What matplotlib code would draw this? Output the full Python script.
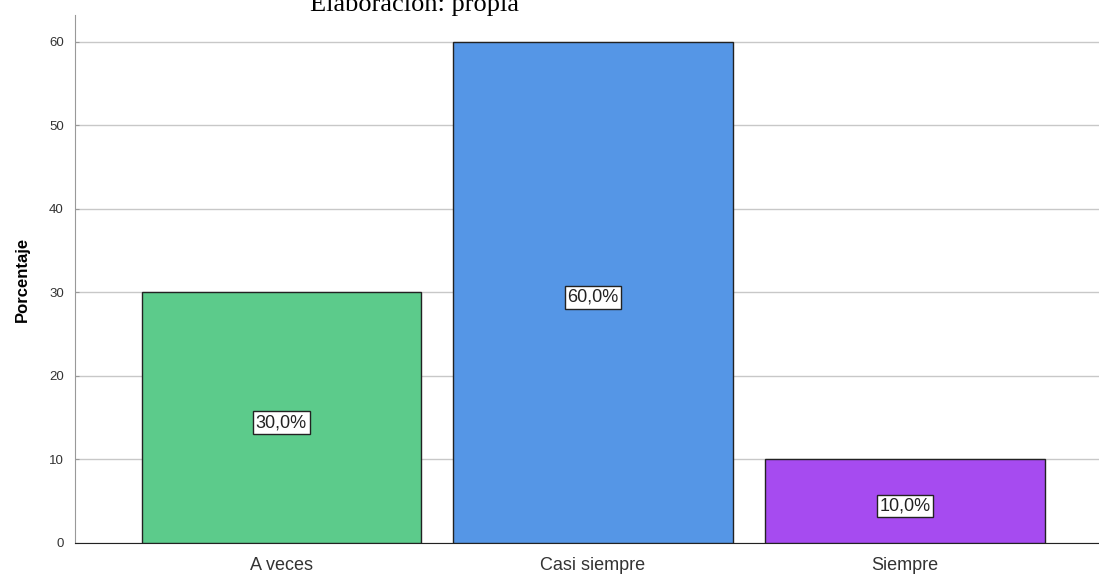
import matplotlib.pyplot as plt

plt.rcParams['font.family'] = ['Liberation Sans', 'DejaVu Sans']

categorias = ['A veces', 'Casi siempre', 'Siempre']
porcentajes = [30.0, 60.0, 10.0]
colores = ['#5ccb8b', '#5596e6', '#a64bf0']

fig = plt.figure(figsize=(10.99, 5.76), dpi=100)
ax = fig.add_axes([0.0682, 0.0573, 0.9318, 0.9167])

x = range(len(categorias))
ax.bar(x, porcentajes, width=0.897, color=colores, edgecolor='#222222', linewidth=1, zorder=3)

for i, v in zip(x, porcentajes):
    ax.text(i, v / 2 - 0.6, f'{v:.1f}%'.replace('.', ','), ha='center', va='center',
            fontsize=13, color='#222222', zorder=4,
            bbox=dict(boxstyle='square,pad=0.15', facecolor='white', edgecolor='#222222', linewidth=1))

ax.set_xlim(-0.662, 2.623)
ax.set_ylim(0, 63.2)
ax.set_yticks(range(0, 61, 10))
ax.set_xticks(list(x))
ax.set_xticklabels(categorias, fontsize=13, color='#333333')
ax.tick_params(axis='y', labelsize=9.5, length=3, direction='in', color='#999999', labelcolor='#333333', pad=8)
ax.tick_params(axis='x', length=0, pad=10)
ax.yaxis.grid(True, color='#c8c8c8', linewidth=1, zorder=0)
ax.set_axisbelow(True)

for s in ['top', 'right']:
    ax.spines[s].set_visible(False)
ax.spines['left'].set_color('#999999')
ax.spines['bottom'].set_color('#222222')

ax.set_ylabel('Porcentaje', fontsize=12, fontweight='bold', labelpad=14)

fig.text(0.282, 0.981, 'Elaboración: propia', family='Liberation Serif', fontsize=19,
         ha='left', va='baseline')

fig.savefig('out.png', dpi=100)
